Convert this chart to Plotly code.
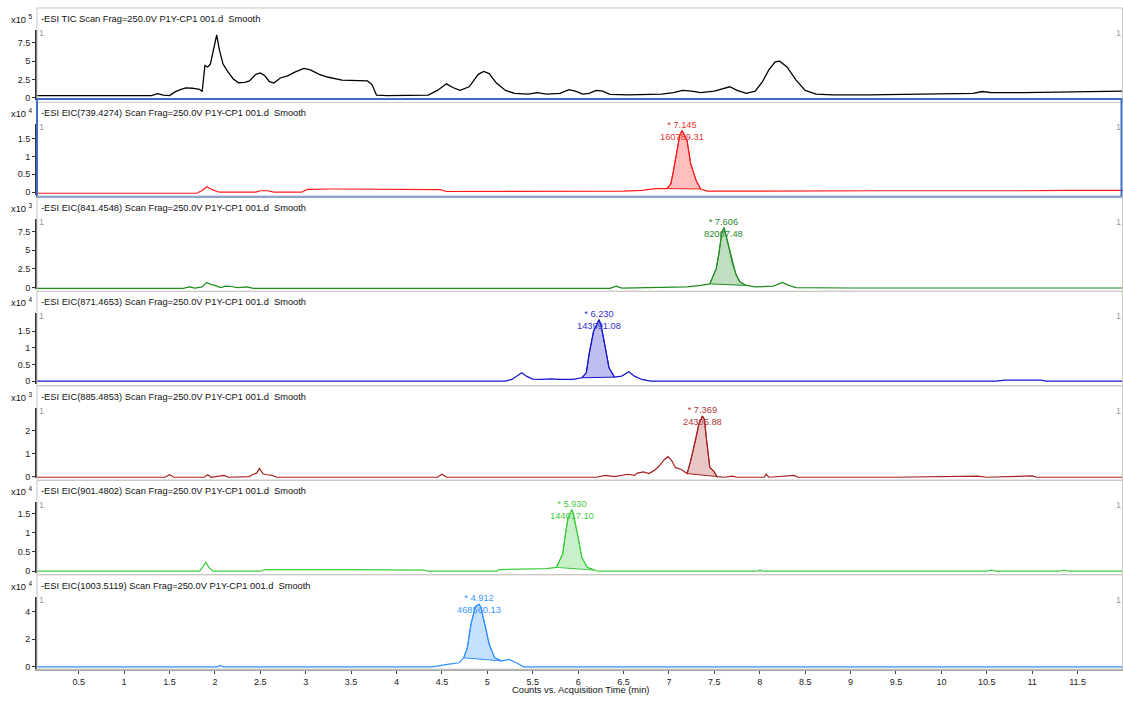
import plotly.graph_objects as go

W, H = 1123, 701

# ---------------- data ----------------
x_ticks = [0.5, 1, 1.5, 2, 2.5, 3, 3.5, 4, 4.5, 5, 5.5, 6, 6.5, 7, 7.5, 8, 8.5, 9, 9.5, 10, 10.5, 11, 11.5]
x_ticklabels = ["0.5", "1", "1.5", "2", "2.5", "3", "3.5", "4", "4.5", "5", "5.5", "6", "6.5", "7",
                "7.5", "8", "8.5", "9", "9.5", "10", "10.5", "11", "11.5"]

titles = [
    "-ESI TIC Scan Frag=250.0V P1Y-CP1 001.d\u00a0 Smooth",
    "-ESI EIC(739.4274) Scan Frag=250.0V P1Y-CP1 001.d\u00a0 Smooth",
    "-ESI EIC(841.4548) Scan Frag=250.0V P1Y-CP1 001.d\u00a0 Smooth",
    "-ESI EIC(871.4653) Scan Frag=250.0V P1Y-CP1 001.d\u00a0 Smooth",
    "-ESI EIC(885.4853) Scan Frag=250.0V P1Y-CP1 001.d\u00a0 Smooth",
    "-ESI EIC(901.4802) Scan Frag=250.0V P1Y-CP1 001.d\u00a0 Smooth",
    "-ESI EIC(1003.5119) Scan Frag=250.0V P1Y-CP1 001.d\u00a0 Smooth",
]
exponents = ["5", "4", "3", "4", "3", "4", "4"]

tic_t = [0.04, 1.30, 1.37, 1.43, 1.50, 1.56, 1.62, 1.68, 1.75, 1.83, 1.86, 1.89, 1.92, 1.95, 2.02, 2.05,
         2.09, 2.14, 2.20, 2.26, 2.33, 2.38, 2.45, 2.50, 2.55, 2.60, 2.65, 2.72, 2.80, 2.88, 2.98, 3.05,
         3.15, 3.25, 3.40, 3.55, 3.68, 3.73, 3.78, 3.90, 4.35, 4.45, 4.55, 4.62, 4.70, 4.80, 4.90, 4.96,
         5.02, 5.10, 5.20, 5.30, 5.45, 5.55, 5.65, 5.80, 5.90, 5.97, 6.05, 6.12, 6.20, 6.27, 6.35, 6.55,
         6.75, 6.92, 7.05, 7.15, 7.25, 7.35, 7.50, 7.60, 7.67, 7.75, 7.85, 7.95, 8.03, 8.10, 8.17, 8.22,
         8.30, 8.40, 8.50, 8.62, 8.80, 9.20, 9.60, 10.00, 10.35, 10.45, 10.55, 10.90, 11.30, 11.70, 12.00]
tic_y = [0.3, 0.3, 0.55, 0.35, 0.3, 0.8, 1.1, 1.35, 1.3, 1.15, 0.85, 4.4, 4.2, 4.6, 8.6, 6.5,
         4.6, 3.6, 2.6, 2.05, 2.1, 2.3, 3.2, 3.4, 3.0, 2.2, 2.0, 2.7, 3.0, 3.5, 4.0, 3.8,
         3.2, 2.8, 2.4, 2.3, 2.3, 1.8, 0.35, 0.3, 0.35, 1.0, 1.9, 1.4, 1.0, 1.5, 3.2, 3.6,
         3.3, 2.0, 1.0, 0.6, 0.5, 0.7, 0.5, 0.6, 1.1, 0.9, 0.5, 0.6, 1.0, 0.9, 0.45, 0.4,
         0.4, 0.5, 0.7, 1.0, 0.9, 0.7, 0.9, 1.3, 1.5, 1.0, 0.6, 0.9, 2.2, 3.8, 4.9, 5.0,
         4.2, 2.4, 1.0, 0.5, 0.4, 0.4, 0.45, 0.5, 0.6, 0.85, 0.7, 0.7, 0.8, 0.85, 0.9]

e739_t = [0.04, 1.80, 1.86, 1.91, 1.97, 2.05, 2.45, 2.50, 2.58, 2.65, 2.95, 3.02, 3.30, 3.60, 3.90, 4.20,
          4.48, 4.55, 5.00, 5.50, 6.00, 6.50, 6.70, 6.85, 6.98, 7.02, 7.05, 7.08, 7.12, 7.145, 7.20, 7.24,
          7.30, 7.35, 7.42, 7.80, 8.30, 8.80, 9.30, 9.80, 10.30, 10.80, 11.40, 12.00]
e739_y = [-0.03, -0.03, 0.05, 0.15, 0.07, 0.0, 0.0, 0.04, 0.04, 0.0, 0.0, 0.08, 0.09, 0.08, 0.08, 0.07,
          0.07, 0.02, 0.02, 0.02, 0.03, 0.03, 0.05, 0.10, 0.10, 0.23, 0.60, 1.06, 1.60, 1.72, 1.43, 0.79,
          0.32, 0.09, 0.03, 0.03, 0.04, 0.03, 0.04, 0.04, 0.05, 0.04, 0.05, 0.05]

e841_t = [0.04, 1.65, 1.72, 1.78, 1.86, 1.91, 1.96, 2.00, 2.06, 2.12, 2.18, 2.25, 2.36, 2.42, 6.35, 6.42,
          6.48, 7.20, 7.35, 7.45, 7.52, 7.55, 7.58, 7.606, 7.65, 7.70, 7.74, 7.78, 7.85, 7.95, 8.15, 8.25,
          8.32, 8.40, 9.00, 10.00, 11.00, 12.00]
e841_y = [-0.1, -0.1, 0.1, -0.05, 0.1, 0.7, 0.4, 0.3, 0.0, 0.2, 0.15, 0.0, 0.1, -0.1, -0.1, 0.2,
          -0.05, 0.1, 0.3, 0.5, 2.5, 4.5, 7.2, 8.0, 5.9, 3.2, 1.7, 0.8, 0.3, 0.1, 0.2, 0.7,
          0.3, 0.0, -0.05, -0.05, -0.05, -0.05]

e871_t = [0.04, 5.20, 5.27, 5.33, 5.38, 5.43, 5.50, 5.60, 5.70, 5.80, 5.95, 6.04, 6.09, 6.12, 6.17, 6.23,
          6.25, 6.30, 6.34, 6.40, 6.48, 6.56, 6.62, 6.70, 6.80, 10.60, 10.70, 10.90, 11.10, 11.15, 12.00]
e871_y = [0.0, 0.0, 0.05, 0.15, 0.25, 0.15, 0.06, 0.05, 0.07, 0.05, 0.05, 0.10, 0.25, 0.80, 1.50, 1.84,
          1.70, 1.00, 0.40, 0.12, 0.15, 0.28, 0.15, 0.05, 0.0, 0.0, 0.03, 0.03, 0.03, 0.0, 0.0]

e885_t = [0.04, 1.45, 1.50, 1.55, 1.88, 1.92, 1.96, 2.10, 2.15, 2.38, 2.42, 2.46, 2.49, 2.53, 2.58, 2.63,
          2.68, 4.45, 4.50, 4.55, 6.20, 6.30, 6.40, 6.55, 6.62, 6.65, 6.72, 6.78, 6.84, 6.89, 6.95, 6.99,
          7.03, 7.07, 7.14, 7.20, 7.24, 7.30, 7.33, 7.369, 7.39, 7.42, 7.45, 7.49, 7.53, 7.60, 7.70, 7.75,
          8.05, 8.07, 8.10, 8.38, 8.42, 9.50, 10.40, 10.50, 11.00, 11.05, 12.00]
e885_y = [-0.03, -0.03, 0.08, -0.03, -0.03, 0.08, -0.03, 0.05, -0.03, 0.0, 0.10, 0.15, 0.36, 0.12, 0.08, 0.05,
          -0.03, -0.03, 0.10, -0.03, -0.03, 0.05, 0.0, 0.10, 0.05, 0.15, 0.20, 0.13, 0.27, 0.45, 0.75, 0.87,
          0.70, 0.40, 0.30, 0.13, 0.70, 1.70, 2.30, 2.65, 2.50, 1.40, 0.40, 0.25, 0.0, -0.03, 0.02, -0.03,
          -0.03, 0.10, -0.03, 0.05, -0.03, -0.03, 0.02, -0.03, 0.03, -0.03, -0.03]

e901_t = [0.04, 1.83, 1.87, 1.90, 1.94, 1.98, 2.50, 2.55, 3.50, 4.00, 4.30, 4.35, 5.10, 5.13, 5.40, 5.60,
          5.65, 5.76, 5.83, 5.86, 5.89, 5.93, 5.95, 6.00, 6.04, 6.10, 6.17, 6.22, 7.95, 8.00, 8.05, 10.50,
          10.55, 10.60, 11.30, 11.35, 11.40, 12.00]
e901_y = [0.0, 0.0, 0.12, 0.23, 0.08, 0.0, 0.0, 0.04, 0.04, 0.03, 0.03, 0.0, 0.0, 0.04, 0.06, 0.06,
          0.07, 0.10, 0.45, 0.96, 1.40, 1.60, 1.45, 0.88, 0.36, 0.10, 0.03, 0.0, 0.0, 0.02, 0.0, 0.0,
          0.03, 0.0, 0.0, 0.03, 0.0, 0.0]

e1003_t = [0.04, 2.03, 2.06, 2.09, 4.39, 4.47, 4.58, 4.69, 4.74, 4.78, 4.82, 4.87, 4.912, 4.93, 4.98, 5.02,
           5.08, 5.16, 5.24, 5.32, 5.40, 12.00]
e1003_y = [0.0, 0.0, 0.1, 0.0, 0.0, 0.1, 0.2, 0.3, 0.66, 1.4, 3.1, 4.4, 4.55, 4.3, 2.9, 1.65,
           0.66, 0.43, 0.54, 0.3, 0.0, 0.0]

y_ticks = [[0, 2.5, 5, 7.5], [0, 0.5, 1, 1.5], [0, 2.5, 5, 7.5], [0, 0.5, 1, 1.5],
           [0, 1, 2], [0, 0.5, 1, 1.5], [0, 2, 4]]
y_ticklabels = [["0", "2.5", "5", "7.5"], ["0", "0.5", "1", "1.5"], ["0", "2.5", "5", "7.5"],
                ["0", "0.5", "1", "1.5"], ["0", "1", "2"], ["0", "0.5", "1", "1.5"], ["0", "2", "4"]]

# integrated peaks: window (start, end), retention label, area label
peak_windows = [None, (6.98, 7.35), (7.45, 7.85), (6.04, 6.40), (7.20, 7.53), (5.76, 6.17), (4.74, 5.16)]
peak_rt = [None, "* 7.145", "* 7.606", "* 6.230", "* 7.369", "* 5.930", "* 4.912"]
peak_area = [None, "160789.31", "82007.48", "143991.08", "24305.88", "144017.10", "468560.13"]

# ---------------- styling / geometry ----------------
series = [(tic_t, tic_y), (e739_t, e739_y), (e841_t, e841_y), (e871_t, e871_y),
          (e885_t, e885_y), (e901_t, e901_y), (e1003_t, e1003_y)]
colors = ["#000000", "#ff1a1a", "#1e8c1e", "#1414cc", "#a82020", "#3ccc3c", "#2f8fff"]
fills = [None, "rgba(255,0,0,0.25)", "rgba(30,140,30,0.28)", "rgba(20,20,204,0.28)",
         "rgba(168,32,32,0.25)", "rgba(60,204,60,0.28)", "rgba(47,143,255,0.28)"]
text_colors = ["#000", "#ee3333", "#2a8a2a", "#3333cc", "#b03838", "#44cc44", "#3a96ff"]
# per panel: plot top px, bottom px, zero px, px per unit
geom = [(30, 101, 98.3, 7.36), (125, 196, 193.3, 36.0), (220, 291, 289.3, 7.55),
        (315, 386, 383.3, 33.5), (410, 481, 479.3, 23.0), (505, 576, 574.5, 38.7),
        (600, 673, 670.7, 13.85)]
header_y = [19 + 95 * i for i in range(7)]
X_LEFT = 37
FONT = "Liberation Sans, Arial, sans-serif"
FS = 9.3


def py(p):
    return 1 - p / H


def px(p):
    return p / W


fig = go.Figure()
layout = dict(width=W, height=H, margin=dict(l=0, r=0, t=0, b=0), showlegend=False,
              paper_bgcolor="white", plot_bgcolor="white", font=dict(family=FONT, size=9, color="#222"))
annotations = []
shapes = []

for i in range(7):
    n = i + 1
    xa = "x" if n == 1 else f"x{n}"
    ya = "y" if n == 1 else f"y{n}"
    top, bot, zero, ppu = geom[i]
    lo = -(bot - zero) / ppu
    hi = (zero - top) / ppu
    last = (i == 6)
    layout["xaxis" if n == 1 else f"xaxis{n}"] = dict(
        domain=[px(X_LEFT), 1], range=[0.041, 12.0], anchor=ya,
        matches=None if n == 1 else "x",
        showgrid=False, zeroline=False,
        showline=last, linecolor="#a8a8a8", linewidth=2,
        ticks="outside" if last else "", ticklen=3, tickcolor="#444",
        tickvals=x_ticks if last else None, ticktext=x_ticklabels if last else None,
        showticklabels=last, tickfont=dict(size=9, color="#222"))
    layout["yaxis" if n == 1 else f"yaxis{n}"] = dict(
        domain=[py(bot), py(top)], range=[lo, hi], anchor=xa,
        showgrid=False, zeroline=False, showline=True, linecolor="#333", linewidth=2,
        ticks="outside", ticklen=3, tickcolor="#333",
        tickvals=y_ticks[i], ticktext=y_ticklabels[i], tickfont=dict(size=9, color="#222"))

    t, y = series[i]
    win = peak_windows[i]
    if win is not None:
        ft = [a for a, b in zip(t, y) if win[0] <= a <= win[1]]
        fy = [b for a, b in zip(t, y) if win[0] <= a <= win[1]]
        fig.add_trace(go.Scatter(x=ft + [ft[0]], y=fy + [fy[0]], mode="lines", fill="toself",
                                 fillcolor=fills[i], line=dict(color=colors[i], width=1),
                                 xaxis=xa, yaxis=ya, hoverinfo="skip"))
    fig.add_trace(go.Scatter(x=t, y=y, mode="lines", line=dict(color=colors[i], width=1.3 if i == 0 else 1.2),
                             xaxis=xa, yaxis=ya))
    if win is not None:
        k = max(range(len(y)), key=lambda j: y[j])
        annotations.append(dict(x=t[k], y=y[k], xref=xa, yref=ya, text=peak_rt[i] + "<br>" + peak_area[i],
                                showarrow=False, xanchor="center", yanchor="middle", yshift=0,
                                font=dict(size=FS, color=text_colors[i], family=FONT)))

    hy = header_y[i]
    # panel frame
    if i == 1:
        shapes.append(dict(type="rect", xref="paper", yref="paper", x0=px(X_LEFT), x1=px(W - 1.5),
                           y0=py(bot + 2), y1=py(hy - 14.5), line=dict(color="#3b6fc6", width=2)))
    else:
        shapes.append(dict(type="rect", xref="paper", yref="paper", x0=px(X_LEFT), x1=px(W - 0.5),
                           y0=py(bot + 2 if not last else bot), y1=py(hy - 11), line=dict(color="#c9c6c0", width=1)))
    # header text
    annotations.append(dict(x=px(39), y=py(hy), xref="paper", yref="paper", text=titles[i],
                            showarrow=False, xanchor="left", yanchor="middle",
                            font=dict(size=FS, color="#111", family=FONT)))
    annotations.append(dict(x=px(9), y=py(hy), xref="paper", yref="paper",
                            text="x10 <sup>" + exponents[i] + "</sup>",
                            showarrow=False, xanchor="left", yanchor="middle",
                            font=dict(size=FS, color="#111", family=FONT)))
    for xx in (41, 1118):
        annotations.append(dict(x=px(xx), y=py(hy + 14), xref="paper", yref="paper", text="1",
                                showarrow=False, xanchor="center", yanchor="middle",
                                font=dict(size=9, color="#999", family=FONT)))

annotations.append(dict(x=px(580), y=py(694), xref="paper", yref="paper",
                        text="Counts vs. Acquisition Time (min)", showarrow=False,
                        xanchor="center", yanchor="middle", font=dict(size=FS, color="#111", family=FONT)))

layout["annotations"] = annotations
layout["shapes"] = shapes
fig.update_layout(**layout)
fig.write_html("out.html")
